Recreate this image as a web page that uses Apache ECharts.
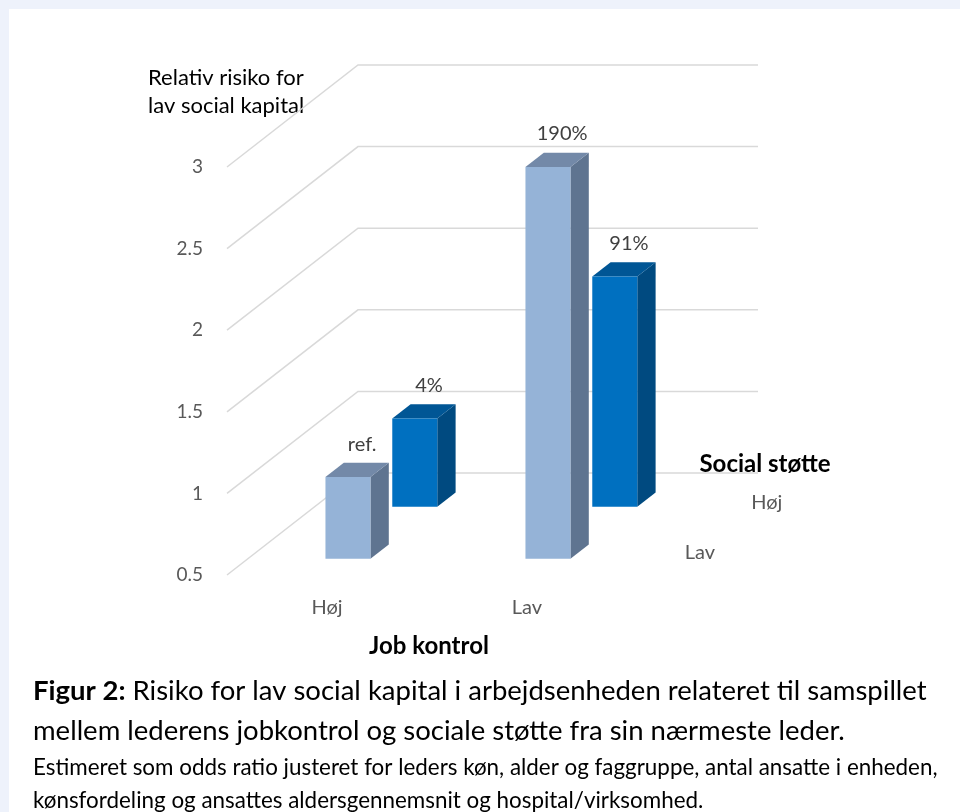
<!DOCTYPE html>
<html>
<head>
<meta charset="utf-8">
<script src="https://cdn.jsdelivr.net/npm/echarts@6/dist/echarts.min.js"></script>
<style>
html,body{margin:0;padding:0;background:#eef2fb;}
#chart{width:960px;height:812px;}
</style>
</head>
<body>
<div id="chart"></div>
<script>
// ---- data ----
var jobKontrol = ['Høj', 'Lav'];                 // x categories (Job kontrol)
var socialStotte = ['Lav', 'Høj'];               // depth rows, front to back (Social støtte)
var valuesLavStotte = [1.0, 2.9];                // front row (light blue)
var valuesHojStotte = [1.04, 1.91];              // back row (dark blue)
var labelsLavStotte = ['ref.', '190%'];
var labelsHojStotte = ['4%', '91%'];
var yTicks = [0.5, 1, 1.5, 2, 2.5, 3];
var yMin = 0.5, yMax = 3;

var FONT = 'Lato, "Open Sans", sans-serif';
var DEPTH = [131, -102];           // oblique depth vector of the whole floor
var ROW_FRAC = [0.16, 0.67];       // depth position of each row's front face
var BAR_DEPTH = 0.14;              // bar depth as fraction of DEPTH
var BAR_W = 0.225;                 // bar width as fraction of band

var rowColors = [
  {front: '#95b3d7', top: '#7389a8', side: '#5f7490'},
  {front: '#0070c0', top: '#005695', side: '#004a80'}
];

function barItem(row) {
  return function (params, api) {
    var c = api.value(0), v = api.value(1);
    var band = api.size([1, 0])[0];
    var w = band * BAR_W;
    var base = api.coord([c, yMin]);
    var top = api.coord([c, v]);
    var f = ROW_FRAC[row];
    var ox = DEPTH[0] * f, oy = DEPTH[1] * f;
    var dx = DEPTH[0] * BAR_DEPTH, dy = DEPTH[1] * BAR_DEPTH;
    var x0 = base[0] - w / 2 + ox, x1 = base[0] + w / 2 + ox;
    var yb = base[1] + oy, yt = top[1] + oy;
    var col = rowColors[row];
    var lbl = (row === 0 ? labelsLavStotte : labelsHojStotte)[params.dataIndex];
    return {
      type: 'group',
      children: [
        {type: 'polygon', shape: {points: [[x1, yt], [x1 + dx, yt + dy], [x1 + dx, yb + dy], [x1, yb]]},
         style: {fill: col.side}},
        {type: 'polygon', shape: {points: [[x0, yt], [x0 + dx, yt + dy], [x1 + dx, yt + dy], [x1, yt]]},
         style: {fill: col.top}},
        {type: 'rect', shape: {x: x0, y: yt, width: x1 - x0, height: yb - yt},
         style: {fill: col.front}},
        {type: 'text', x: (x0 + x1) / 2 + dx / 2 + 5, y: yt - 33,
         style: {text: lbl, fill: '#404040', font: '20px ' + FONT, align: 'center', verticalAlign: 'middle'}}
      ]
    };
  };
}

function gridItem(params, api) {
  var cs = params.coordSys;
  var p = api.coord([0, api.value(1)]);
  var x0 = cs.x, y = p[1];
  return {
    type: 'polyline',
    shape: {points: [[x0, y], [x0 + DEPTH[0], y + DEPTH[1]], [x0 + DEPTH[0] + cs.width, y + DEPTH[1]]]},
    style: {stroke: '#d9d9d9', lineWidth: 1.5, fill: null}
  };
}

function depthLabelItem(params, api) {
  var cs = params.coordSys;
  var row = params.dataIndex;
  var base = api.coord([0, yMin]);
  var f = ROW_FRAC[row];
  var x = cs.x + cs.width + DEPTH[0] * f + 52;
  var y = base[1] + DEPTH[1] * f - 6 + row * 2;
  return {
    type: 'text', x: x, y: y,
    style: {text: socialStotte[row], fill: '#595959', font: '20px ' + FONT, align: 'center', verticalAlign: 'middle'}
  };
}

var chart = echarts.init(document.getElementById('chart'));
chart.setOption({
  backgroundColor: '#eef2fb',
  animation: false,
  grid: {left: 227, right: 333, top: 167, bottom: 237},
  xAxis: {
    type: 'category', data: jobKontrol, boundaryGap: true,
    axisLine: {show: false}, axisTick: {show: false},
    axisLabel: {color: '#595959', fontSize: 20, fontFamily: FONT, margin: 23}
  },
  yAxis: {
    type: 'value', min: yMin, max: yMax, interval: 0.5,
    axisLine: {show: false}, axisTick: {show: false}, splitLine: {show: false},
    axisLabel: {color: '#595959', fontSize: 19, fontFamily: FONT, margin: 24}
  },
  graphic: [
    {type: 'rect', left: 9, top: 9, shape: {width: 951, height: 803}, style: {fill: '#ffffff'}, z: -10},
    {type: 'text', left: 148, top: 64, style: {text: 'Relativ risiko for\nlav social kapital', fill: '#000', font: '22px ' + FONT, lineHeight: 28, align: 'left'}},
    {type: 'text', x: 429, y: 646, style: {text: 'Job kontrol', fill: '#000', font: 'bold 24px ' + FONT, align: 'center', verticalAlign: 'middle'}},
    {type: 'text', x: 765, y: 464, style: {text: 'Social støtte', fill: '#000', font: 'bold 24px ' + FONT, align: 'center', verticalAlign: 'middle'}},
    {type: 'text', x: 33, y: 691, style: {
      text: '{b|Figur 2:} Risiko for lav social kapital i arbejdsenheden relateret til samspillet',
      rich: {b: {font: 'bold 27.5px ' + FONT, fill: '#000'}},
      font: '27.5px ' + FONT, fill: '#000', verticalAlign: 'middle'}},
    {type: 'text', x: 33, y: 731, style: {text: 'mellem lederens jobkontrol og sociale støtte fra sin nærmeste leder.', font: '27.5px ' + FONT, fill: '#000', verticalAlign: 'middle'}},
    {type: 'text', x: 33, y: 768, style: {text: 'Estimeret som odds ratio justeret for leders køn, alder og faggruppe, antal ansatte i enheden,', font: '22.4px ' + FONT, fill: '#000', verticalAlign: 'middle'}},
    {type: 'text', x: 33, y: 801, style: {text: 'kønsfordeling og ansattes aldersgennemsnit og hospital/virksomhed.', font: '22.4px ' + FONT, fill: '#000', verticalAlign: 'middle'}}
  ],
  series: [
    {type: 'custom', renderItem: gridItem, data: yTicks.map(function (t) { return [0, t]; }), z: 1, silent: true},
    {type: 'custom', renderItem: barItem(1), data: valuesHojStotte.map(function (v, i) { return [i, v]; }), z: 2},
    {type: 'custom', renderItem: barItem(0), data: valuesLavStotte.map(function (v, i) { return [i, v]; }), z: 3},
    {type: 'custom', renderItem: depthLabelItem, data: socialStotte.map(function (s, i) { return [0, yMin]; }), z: 3, silent: true}
  ]
});
</script>
</body>
</html>
